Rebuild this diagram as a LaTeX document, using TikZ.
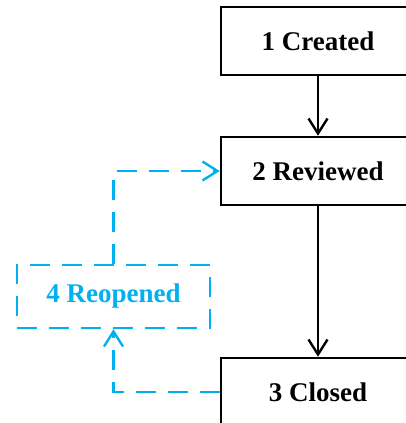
\documentclass[tikz,border=0pt]{standalone}
\usepackage{fontspec}
\setmainfont{Liberation Serif}
\usetikzlibrary{arrows.meta}
\definecolor{reopencyan}{RGB}{0,176,240}
\begin{document}
\begin{tikzpicture}[node distance=130pt, >={Straight Barb[length=15pt,width=19pt,line width=2.4pt]}]
    \tikzstyle{state}=[draw, line width=2.5pt, minimum width=194pt, minimum height=68pt, align=center, font=\fontsize{27}{32}\selectfont\bfseries]
    \tikzstyle{reopen}=[draw=reopencyan, text=reopencyan, line width=2.5pt, dash pattern=on 20pt off 12pt, minimum width=193pt, minimum height=63pt, align=center, font=\fontsize{27}{32}\selectfont\bfseries]
    \tikzstyle{link}=[draw=reopencyan, line width=2.5pt, dash pattern=on 20pt off 12pt]
    \useasboundingbox (0,0) rectangle (406pt,423pt);

    \node[state] (created) at (318pt,382pt) {1 Created};
    \node[state, below of=created] (reviewed) {2 Reviewed};
    \node[state, below of=reviewed, node distance=221pt] (closed) {3 Closed};
    \node[reopen] (reopened) at (113.5pt,126.5pt) {4 Reopened};

    \draw[->, line width=2.5pt] (created) -- (reviewed);
    \draw[->, line width=2.5pt] (reviewed) -- (closed);
    \draw[link, ->] (reopened.north) |- (reviewed.west);
    \draw[link, ->] (closed.west) -| (reopened.south);
  \end{tikzpicture}
\end{document}
